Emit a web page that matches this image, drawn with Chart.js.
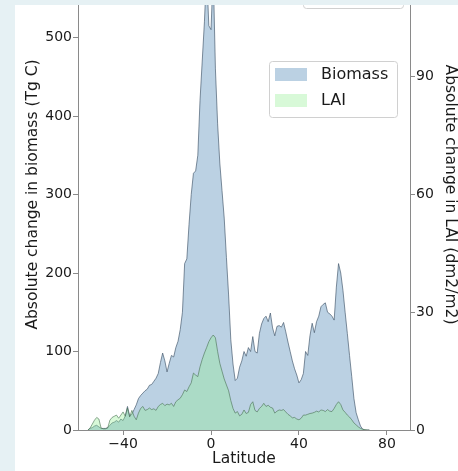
<!DOCTYPE html>
<html>
<head>
<meta charset="utf-8">
<script src="https://cdn.jsdelivr.net/npm/chart.js@4.4.1/dist/chart.umd.min.js"></script>
<style>
  html, body { margin: 0; padding: 0; background: #e6f1f4; overflow: hidden; }
  #wrap { position: absolute; left: 15px; top: -41px; width: 443px; height: 512px; background: #fff; }
  #strip { position: absolute; left: 0; top: 0; width: 458px; height: 5px; background: #e6f1f4; }
</style>
</head>
<body>
<div id="wrap"><canvas id="myChart" width="443" height="512"></canvas></div>
<div id="strip"></div>
<script>
// latitude, 1 degree steps from -56 to 72
var lat = [];
for (var l = -56; l <= 72; l++) lat.push(l);

// absolute change in biomass (Tg C), left axis
var biomass = [
  0, 2, 3, 5, 6, 4, 2, 2, 2, 3,
  6, 9, 10, 12, 10, 14, 12, 18, 30, 18,
  20, 26, 32, 40, 44, 47, 50, 52, 57, 58,
  62, 66, 72, 86, 98, 88, 74, 85, 95, 93,
  105, 113, 128, 150, 212, 218, 262, 300, 327, 330,
  350, 420, 470, 520, 585, 515, 510, 585, 460, 390,
  340, 305, 270, 220, 172, 115, 84, 63, 66, 80,
  88, 100, 94, 105, 100, 119, 100, 98, 123, 135,
  142, 145, 138, 149, 130, 120, 132, 133, 131, 137,
  125, 112, 100, 88, 78, 70, 60, 64, 72, 100,
  95, 120, 136, 124, 138, 145, 157, 160, 162, 150,
  148, 145, 140, 182, 212, 200, 178, 150, 123, 95,
  68, 40, 22, 13, 5, 1, 0, 0, 0
];

// absolute change in LAI (dm2/m2), right axis
var lai = [
  0, 0.5, 1.5, 2.5, 3.2, 2.8, 0.5, 0.3, 0.3, 0.5,
  2.5, 3.2, 3.5, 3.8, 3.0, 3.8, 4.6, 3.5, 5.6, 3.3,
  5.0, 3.5, 2.6, 4.3, 5.5, 6.0, 5.0, 5.2, 5.6, 5.2,
  5.4, 5.0, 6.0, 6.5, 6.8, 6.2, 6.6, 6.4, 6.8, 6.0,
  7.2, 7.7, 8.1, 9.0, 10.2, 9.8, 11.0, 12.0, 14.5, 14.0,
  13.6, 16.1, 18.0, 19.6, 21.0, 22.5, 23.5, 24.2, 23.5, 20.0,
  17.0, 15.0, 13.0, 11.5, 10.0, 7.5, 5.5, 4.3, 4.7, 3.6,
  4.0, 5.1, 4.2, 4.5, 6.5, 7.2, 5.0, 4.6, 5.5, 6.0,
  6.8, 6.0, 6.3, 5.8, 5.6, 4.3, 4.8, 5.1, 5.0, 5.2,
  4.6, 4.0, 3.6, 3.1, 3.2, 2.8, 2.6, 3.0, 3.8, 3.8,
  4.0, 4.2, 4.3, 4.5, 4.8, 4.6, 5.1, 5.0, 4.7, 5.2,
  4.8, 4.7, 5.5, 6.5, 7.2, 6.5, 5.1, 4.5, 3.8, 3.3,
  2.6, 1.8, 1.3, 0.8, 0.4, 0.2, 0.1, 0, 0
];

var xTicks = [-40, 0, 40, 80];
var yTicks = [0, 100, 200, 300, 400, 500];
var y2Ticks = [0, 30, 60, 90];

var textColor = '#1a1a1a';
var spineColor = '#8a8a8a';
var blueFill = 'rgba(70, 130, 180, 0.37)';
var greenFill = 'rgba(144, 238, 144, 0.35)';

Chart.defaults.font.family = '"DejaVu Sans", sans-serif';

function fixTicks(list) {
  return function(scale) {
    scale.ticks = list.map(function(v) { return { value: v }; });
  };
}

// legend box drawn like matplotlib's, inside the plot
var legendBox = {
  id: 'legendBox',
  afterDraw: function(chart) {
    var ctx = chart.ctx;
    ctx.save();
    // part of a second box cut off at the top
    ctx.fillStyle = 'rgba(255,255,255,0.8)';
    ctx.strokeStyle = '#d0d0d0';
    ctx.lineWidth = 1;
    ctx.beginPath();
    ctx.roundRect(288.5, -30.5, 100, 80, 3);
    ctx.fill();
    ctx.stroke();

    ctx.beginPath();
    ctx.roundRect(254.5, 102.5, 128, 56, 3);
    ctx.fill();
    ctx.stroke();

    var items = [
      { label: 'Biomass', color: blueFill, y: 109 },
      { label: 'LAI', color: greenFill, y: 135 }
    ];
    ctx.font = '16px "DejaVu Sans"';
    ctx.textBaseline = 'middle';
    items.forEach(function(it) {
      ctx.fillStyle = it.color;
      ctx.fillRect(260, it.y, 32, 13);
      ctx.fillStyle = textColor;
      ctx.fillText(it.label, 306, it.y + 7);
    });
    ctx.restore();
  }
};

var ctx = document.getElementById('myChart').getContext('2d');
var myChart = new Chart(ctx, {
  type: 'line',
  data: {
    datasets: [{
      label: 'Biomass',
      data: lat.map(function(x, i) { return { x: x, y: biomass[i] }; }),
      yAxisID: 'y',
      backgroundColor: blueFill,
      borderColor: 'rgba(60, 80, 100, 0.8)',
      borderWidth: 0.8,
      fill: 'origin',
      pointRadius: 0,
      tension: 0,
      order: 2
    }, {
      label: 'LAI',
      data: lat.map(function(x, i) { return { x: x, y: lai[i] }; }),
      yAxisID: 'y2',
      backgroundColor: greenFill,
      borderColor: 'rgba(70, 110, 80, 0.75)',
      borderWidth: 0.8,
      fill: 'origin',
      pointRadius: 0,
      tension: 0,
      order: 1
    }]
  },
  options: {
    responsive: false,
    animation: false,
    devicePixelRatio: 1,
    layout: { padding: 0 },
    plugins: {
      legend: { display: false },
      tooltip: { enabled: false }
    },
    scales: {
      x: {
        type: 'linear',
        min: -60.5,
        max: 90.5,
        afterBuildTicks: fixTicks(xTicks),
        afterFit: function(s) { s.height = 41; s.paddingLeft = 0; s.paddingRight = 0; },
        ticks: {
          color: textColor,
          font: { size: 14 },
          padding: 1,
          maxRotation: 0,
          autoSkip: false,
          callback: function(v) { return String(v).replace('-', '\u2212'); }
        },
        grid: { drawOnChartArea: false, tickLength: 5, color: spineColor },
        border: { color: spineColor, width: 1 },
        title: {
          display: true,
          text: 'Latitude',
          color: textColor,
          font: { size: 15.5, lineHeight: 1 },
          padding: { top: 0, bottom: 4 }
        }
      },
      y: {
        position: 'left',
        min: 0,
        max: 600,
        afterBuildTicks: fixTicks(yTicks),
        afterFit: function(s) { s.width = 63; s.paddingTop = 0; s.paddingBottom = 0; },
        ticks: { color: textColor, font: { size: 14 }, padding: 1 },
        grid: { drawOnChartArea: false, tickLength: 5, color: spineColor },
        border: { color: spineColor, width: 1 },
        title: {
          display: true,
          text: 'Absolute change in biomass (Tg C)',
          color: textColor,
          font: { size: 15.5, lineHeight: 1 },
          padding: { top: 10, bottom: 0 }
        }
      },
      y2: {
        position: 'right',
        min: 0,
        max: 120,
        afterBuildTicks: fixTicks(y2Ticks),
        afterFit: function(s) { s.width = 48; s.paddingTop = 0; s.paddingBottom = 0; },
        ticks: { color: textColor, font: { size: 14 }, padding: 1 },
        grid: { drawOnChartArea: false, tickLength: 5, color: spineColor },
        border: { color: spineColor, width: 1 },
        title: {
          display: true,
          text: 'Absolute change in LAI (dm2/m2)',
          color: textColor,
          font: { size: 15.5, lineHeight: 1 },
          padding: { top: 0, bottom: 0 }
        }
      }
    }
  },
  plugins: [legendBox]
});
</script>
</body>
</html>
